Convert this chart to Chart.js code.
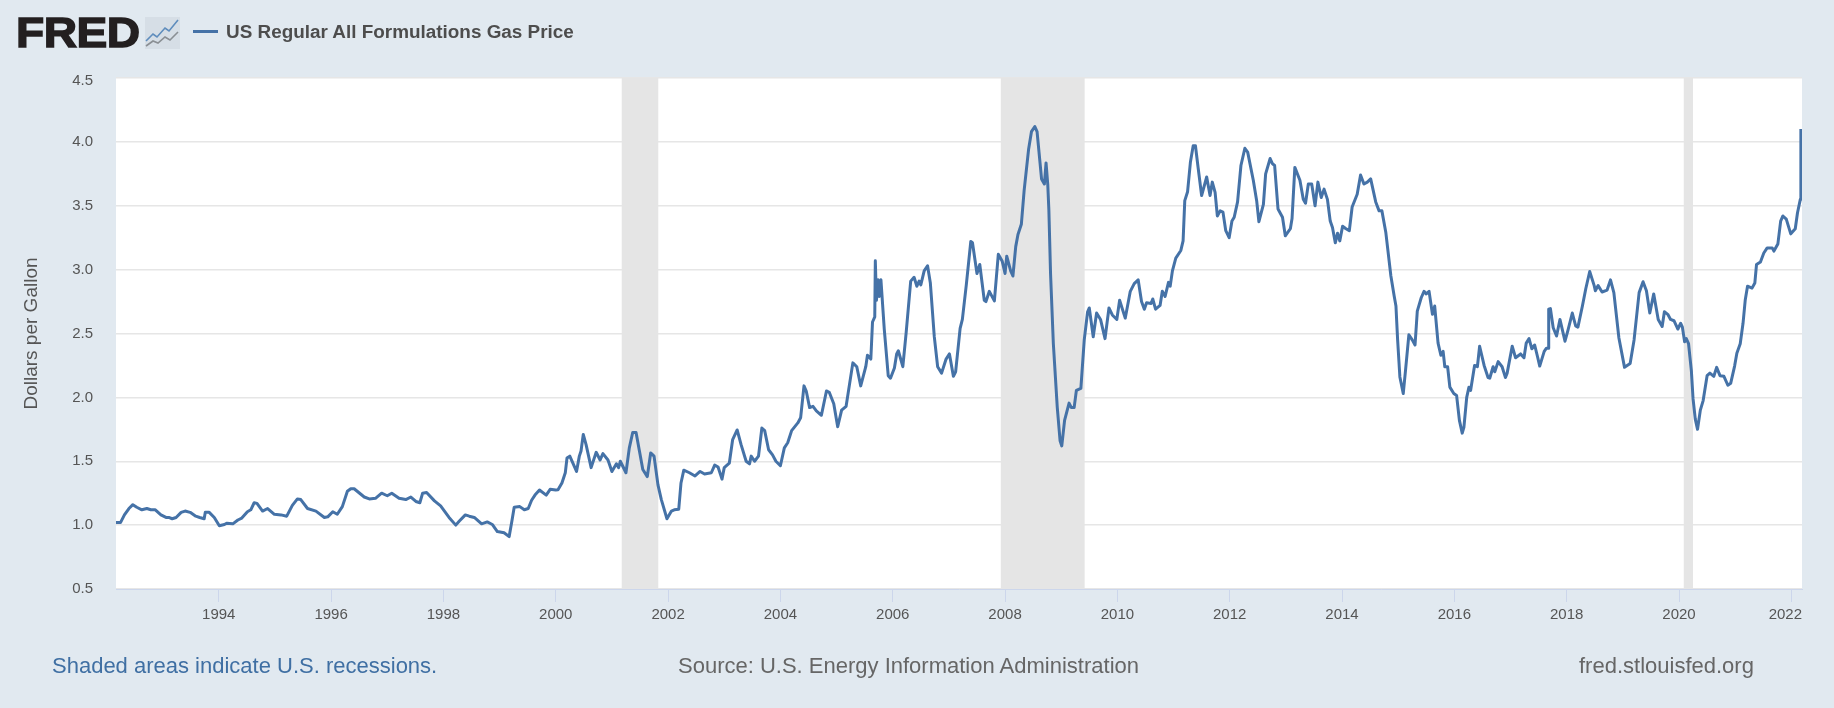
<!DOCTYPE html>
<html>
<head>
<meta charset="utf-8">
<title>US Regular All Formulations Gas Price</title>
<script src="https://cdn.jsdelivr.net/npm/chart.js@4"></script>
<style>
html, body { margin: 0; padding: 0; background: #e1e9f0; }
#wrap { position: relative; width: 1834px; height: 708px; overflow: hidden; font-family: "Liberation Sans", Arial, sans-serif; }
#hrCanvas { position: absolute; left: 0; top: 0; }
.txt { position: absolute; white-space: nowrap; }
#logo { left: 16px; top: 8px; font-size: 42px; font-weight: bold; color: #231f20; line-height: 50px; letter-spacing: -0.5px; -webkit-text-stroke: 1.4px #231f20; transform: scaleX(1.1); transform-origin: left center; }
#icon { position: absolute; left: 145px; top: 17px; }
#legend-line { position: absolute; left: 193px; top: 30px; width: 25px; height: 3px; background: #4572a7; }
#legend-text { left: 226px; top: 21px; font-size: 18.9px; font-weight: bold; color: #4d4d4d; line-height: 22px; }
.foot { top: 654px; font-size: 22px; line-height: 24px; color: #666; }
#foot-left { left: 52px; color: #3f6fa3; }
#foot-mid { left: 678px; }
#foot-right { left: 1579px; }
</style>
</head>
<body>
<div id="wrap">
  <canvas id="hrCanvas" width="1834" height="708"></canvas>
  <div class="txt" id="logo">FRED</div>
  <svg id="icon" width="35" height="32" viewBox="0 0 35 32">
    <rect width="35" height="32" fill="#d6dee6"/>
    <polyline points="1,24 8,17 12,20 20,11 24,14 33,3" fill="none" stroke="#5f8dbd" stroke-width="1.6"/>
    <polyline points="1,29 8,24 13,26 20,20 25,23 33,15" fill="none" stroke="#8a8f94" stroke-width="1.6"/>
  </svg>
  <div id="legend-line"></div>
  <div class="txt" id="legend-text">US Regular All Formulations Gas Price</div>
  <div class="txt foot" id="foot-left">Shaded areas indicate U.S. recessions.</div>
  <div class="txt foot" id="foot-mid">Source: U.S. Energy Information Administration</div>
  <div class="txt foot" id="foot-right">fred.stlouisfed.org</div>
</div>
<script>
const gasYears = [
  1992.17,1992.25,1992.32,1992.40,1992.47,1992.54,1992.63,1992.72,1992.79,1992.87,
  1992.97,1993.06,1993.11,1993.17,1993.24,1993.33,1993.40,1993.49,1993.59,1993.66,
  1993.74,1993.76,1993.83,1993.92,1994.01,1994.10,1994.14,1994.25,1994.34,1994.41,
  1994.51,1994.57,1994.63,1994.68,1994.78,1994.87,1994.99,1995.11,1995.21,1995.31,
  1995.40,1995.46,1995.58,1995.73,1995.88,1995.94,1996.03,1996.11,1996.20,1996.29,
  1996.35,1996.41,1996.59,1996.68,1996.79,1996.90,1997.00,1997.08,1997.21,1997.33,
  1997.42,1997.51,1997.58,1997.63,1997.70,1997.84,1997.95,1998.10,1998.22,1998.28,
  1998.39,1998.46,1998.55,1998.68,1998.78,1998.87,1998.96,1999.08,1999.17,1999.22,
  1999.26,1999.36,1999.44,1999.51,1999.57,1999.63,1999.71,1999.83,1999.90,2000.00,
  2000.04,2000.11,2000.17,2000.20,2000.25,2000.37,2000.42,2000.45,2000.49,2000.54,
  2000.63,2000.72,2000.79,2000.84,2000.93,2001.00,2001.08,2001.12,2001.15,2001.25,
  2001.31,2001.37,2001.43,2001.49,2001.55,2001.63,2001.69,2001.75,2001.82,2001.88,
  2001.98,2002.06,2002.11,2002.19,2002.23,2002.28,2002.38,2002.48,2002.57,2002.65,
  2002.77,2002.83,2002.89,2002.96,2003.00,2003.09,2003.15,2003.23,2003.30,2003.39,
  2003.45,2003.48,2003.54,2003.61,2003.67,2003.72,2003.79,2003.86,2003.92,2004.00,
  2004.07,2004.13,2004.20,2004.31,2004.36,2004.42,2004.46,2004.52,2004.58,2004.64,
  2004.73,2004.82,2004.87,2004.95,2005.02,2005.09,2005.17,2005.29,2005.36,2005.43,
  2005.52,2005.55,2005.61,2005.64,2005.68,2005.69,2005.71,2005.74,2005.76,2005.79,
  2005.85,2005.92,2005.96,2006.03,2006.07,2006.10,2006.18,2006.24,2006.32,2006.38,
  2006.43,2006.47,2006.50,2006.56,2006.62,2006.67,2006.74,2006.80,2006.87,2006.95,
  2007.01,2007.08,2007.12,2007.20,2007.24,2007.31,2007.39,2007.42,2007.50,2007.55,
  2007.63,2007.66,2007.72,2007.81,2007.88,2007.95,2008.00,2008.03,2008.10,2008.14,
  2008.19,2008.23,2008.29,2008.34,2008.42,2008.47,2008.53,2008.57,2008.65,2008.70,
  2008.73,2008.76,2008.78,2008.81,2008.86,2008.93,2008.98,2009.01,2009.06,2009.14,
  2009.18,2009.23,2009.27,2009.35,2009.41,2009.47,2009.50,2009.57,2009.63,2009.70,
  2009.78,2009.85,2009.91,2009.99,2010.04,2010.14,2010.23,2010.30,2010.37,2010.43,
  2010.48,2010.52,2010.60,2010.63,2010.68,2010.76,2010.80,2010.85,2010.91,2010.94,
  2010.98,2011.04,2011.13,2011.17,2011.20,2011.25,2011.30,2011.35,2011.39,2011.44,
  2011.50,2011.59,2011.65,2011.69,2011.74,2011.78,2011.83,2011.88,2011.93,2011.99,
  2012.04,2012.08,2012.14,2012.20,2012.27,2012.32,2012.42,2012.48,2012.52,2012.60,
  2012.64,2012.72,2012.76,2012.80,2012.86,2012.94,2012.99,2013.08,2013.11,2013.16,
  2013.25,2013.31,2013.35,2013.40,2013.46,2013.52,2013.57,2013.63,2013.68,2013.74,
  2013.79,2013.83,2013.88,2013.92,2013.96,2014.01,2014.07,2014.13,2014.18,2014.27,
  2014.33,2014.39,2014.45,2014.51,2014.60,2014.66,2014.71,2014.78,2014.87,2014.93,
  2014.96,2014.99,2015.03,2015.09,2015.13,2015.19,2015.25,2015.30,2015.34,2015.41,
  2015.46,2015.50,2015.55,2015.61,2015.65,2015.71,2015.76,2015.80,2015.83,2015.88,
  2015.92,2015.99,2016.04,2016.09,2016.14,2016.17,2016.22,2016.26,2016.29,2016.36,
  2016.41,2016.45,2016.53,2016.60,2016.63,2016.69,2016.72,2016.78,2016.85,2016.91,
  2016.94,2017.03,2017.09,2017.18,2017.24,2017.28,2017.33,2017.38,2017.43,2017.48,
  2017.52,2017.60,2017.64,2017.67,2017.68,2017.71,2017.76,2017.82,2017.88,2017.97,
  2018.02,2018.10,2018.16,2018.20,2018.28,2018.34,2018.41,2018.49,2018.51,2018.56,
  2018.63,2018.72,2018.78,2018.84,2018.93,2019.03,2019.13,2019.20,2019.29,2019.36,
  2019.42,2019.48,2019.55,2019.63,2019.70,2019.74,2019.80,2019.85,2019.91,2019.98,
  2020.03,2020.06,2020.10,2020.13,2020.17,2020.22,2020.25,2020.29,2020.33,2020.38,
  2020.43,2020.50,2020.55,2020.62,2020.67,2020.73,2020.80,2020.87,2020.92,2020.99,
  2021.03,2021.09,2021.14,2021.18,2021.22,2021.30,2021.35,2021.38,2021.45,2021.51,
  2021.57,2021.66,2021.69,2021.76,2021.81,2021.85,2021.91,2021.99,2022.07,2022.11,
  2022.16,2022.17
];
const gasPrices = [
  1.02,1.02,1.08,1.13,1.16,1.14,1.12,1.13,1.12,1.12,
  1.08,1.06,1.06,1.05,1.06,1.10,1.11,1.10,1.07,1.06,
  1.05,1.10,1.10,1.06,0.995,1.005,1.015,1.01,1.04,1.055,
  1.105,1.12,1.175,1.17,1.11,1.13,1.085,1.08,1.07,1.155,
  1.205,1.20,1.13,1.11,1.06,1.065,1.105,1.085,1.145,1.265,
  1.285,1.285,1.22,1.205,1.21,1.25,1.23,1.25,1.21,1.20,
  1.22,1.185,1.175,1.25,1.255,1.19,1.15,1.06,1.00,1.03,
  1.08,1.07,1.06,1.01,1.025,1.005,0.95,0.94,0.91,1.035,
  1.14,1.145,1.12,1.13,1.195,1.235,1.275,1.235,1.28,1.275,
  1.276,1.33,1.41,1.525,1.54,1.42,1.54,1.58,1.71,1.63,
  1.45,1.57,1.51,1.56,1.51,1.42,1.48,1.45,1.50,1.41,
  1.605,1.725,1.725,1.58,1.435,1.38,1.565,1.54,1.315,1.20,
  1.05,1.11,1.12,1.125,1.33,1.43,1.41,1.385,1.42,1.40,
  1.41,1.47,1.455,1.36,1.45,1.485,1.67,1.745,1.63,1.50,
  1.48,1.54,1.50,1.54,1.76,1.74,1.59,1.55,1.50,1.465,
  1.605,1.645,1.74,1.80,1.84,2.09,2.05,1.92,1.93,1.895,
  1.86,2.05,2.04,1.95,1.77,1.90,1.93,2.27,2.24,2.09,
  2.24,2.33,2.30,2.59,2.63,3.07,2.76,2.92,2.79,2.92,
  2.53,2.17,2.15,2.23,2.34,2.365,2.24,2.51,2.91,2.94,
  2.87,2.91,2.88,2.99,3.03,2.895,2.475,2.24,2.19,2.30,
  2.34,2.165,2.20,2.54,2.61,2.88,3.22,3.21,2.97,3.04,
  2.76,2.75,2.83,2.755,3.12,3.065,2.97,3.105,2.99,2.95,
  3.18,3.275,3.355,3.62,3.945,4.08,4.12,4.08,3.71,3.67,
  3.835,3.67,3.47,2.97,2.42,1.92,1.66,1.62,1.82,1.955,
  1.92,1.92,2.055,2.07,2.45,2.67,2.70,2.475,2.66,2.61,
  2.46,2.70,2.645,2.61,2.76,2.62,2.83,2.89,2.92,2.75,
  2.69,2.74,2.735,2.77,2.69,2.72,2.83,2.79,2.90,2.87,
  2.99,3.09,3.15,3.225,3.54,3.61,3.84,3.97,3.97,3.79,
  3.58,3.725,3.58,3.685,3.605,3.42,3.46,3.45,3.305,3.25,
  3.38,3.41,3.53,3.815,3.95,3.92,3.70,3.54,3.375,3.51,
  3.75,3.87,3.83,3.815,3.475,3.41,3.265,3.32,3.40,3.80,
  3.70,3.55,3.52,3.67,3.67,3.50,3.685,3.565,3.63,3.55,
  3.38,3.33,3.21,3.285,3.225,3.34,3.32,3.305,3.49,3.59,
  3.74,3.67,3.685,3.71,3.53,3.46,3.46,3.29,2.95,2.79,
  2.715,2.45,2.16,2.03,2.21,2.49,2.45,2.41,2.675,2.78,
  2.83,2.81,2.83,2.65,2.715,2.425,2.33,2.36,2.24,2.24,
  2.08,2.03,2.015,1.82,1.72,1.765,2.00,2.08,2.055,2.25,
  2.24,2.40,2.25,2.155,2.15,2.24,2.20,2.28,2.24,2.155,
  2.19,2.40,2.31,2.34,2.31,2.425,2.46,2.38,2.41,2.32,
  2.245,2.36,2.385,2.385,2.69,2.695,2.545,2.48,2.61,2.44,
  2.52,2.66,2.56,2.55,2.715,2.85,2.985,2.875,2.835,2.875,
  2.825,2.84,2.92,2.82,2.465,2.235,2.265,2.45,2.82,2.905,
  2.835,2.66,2.81,2.61,2.555,2.67,2.65,2.61,2.60,2.535,
  2.58,2.55,2.435,2.46,2.42,2.21,1.99,1.83,1.75,1.90,
  1.975,2.17,2.19,2.165,2.235,2.17,2.165,2.095,2.11,2.245,
  2.345,2.42,2.58,2.765,2.87,2.855,2.895,3.04,3.06,3.13,
  3.17,3.17,3.145,3.20,3.38,3.42,3.395,3.28,3.32,3.445,
  3.55,4.10
];
const recessionStarts = [2001.17, 2007.92, 2020.08];
const recessionEnds = [2001.83, 2009.42, 2020.25];
const yearTicks = [1994, 1996, 1998, 2000, 2002, 2004, 2006, 2008, 2010, 2012, 2014, 2016, 2018, 2020, 2022];

const gasSeries = gasYears.map((year, i) => ({ x: year, y: gasPrices[i] }));
const recessionSets = recessionStarts.map((start, i) => ({
    type: 'line',
    data: [{ x: start, y: 4.5 }, { x: recessionEnds[i], y: 4.5 }],
    borderWidth: 0,
    pointRadius: 0,
    fill: 'start',
    backgroundColor: '#e5e5e5',
    order: 2,
}));

// white plot area, drawn under the grid
const plotBackground = {
    id: 'plotBackground',
    beforeDraw(chart) {
        const { ctx, chartArea: a } = chart;
        ctx.save();
        ctx.fillStyle = '#ffffff';
        ctx.fillRect(a.left, a.top, a.right - a.left, a.bottom - a.top);
        ctx.restore();
    },
};

// FRED pulls the edge labels back inside the plot
const edgeLabelsInside = {
    id: 'edgeLabelsInside',
    afterLayout(chart) {
        const xItems = chart.scales.x.getLabelItems();
        const last = xItems[xItems.length - 1];
        if (last) {
            last.options.textAlign = 'right';
            last.options.translation[0] = chart.chartArea.right;
        }
        const yItems = chart.scales.y.getLabelItems();
        const top = yItems[yItems.length - 1];
        if (top) top.options.translation[1] += 3;
    },
};

new Chart(document.getElementById('hrCanvas').getContext('2d'), {
    type: 'line',
    data: {
        datasets: [{
            label: 'US Regular All Formulations Gas Price',
            data: gasSeries,
            borderColor: '#4572a7',
            borderWidth: 3,
            pointRadius: 0,
            tension: 0,
            borderJoinStyle: 'round',
            fill: false,
            order: 1,
        }, ...recessionSets],
    },
    plugins: [plotBackground, edgeLabelsInside],
    options: {
        responsive: false,
        animation: false,
        events: [],
        layout: { padding: { left: 0, top: 78, right: 32, bottom: 0 } },
        plugins: { legend: { display: false }, tooltip: { enabled: false } },
        scales: {
            x: {
                type: 'linear',
                min: 1992.17,
                max: 2022.19,
                afterFit: (scale) => { scale.height = 119; },
                afterBuildTicks: (scale) => { scale.ticks = yearTicks.map((v) => ({ value: v })); },
                grid: { drawOnChartArea: false, drawTicks: true, tickLength: 13, color: '#ccd6eb' },
                border: { color: '#ccd6eb', width: 1 },
                ticks: {
                    autoSkip: false,
                    maxRotation: 0,
                    padding: 4,
                    color: '#555',
                    font: { family: '"Liberation Sans"', size: 15 },
                    callback: (v) => String(v),
                },
            },
            y: {
                min: 0.5,
                max: 4.5,
                afterFit: (scale) => { scale.width = 116; },
                grid: { color: '#e6e6e6', lineWidth: 1.5, drawTicks: false },
                border: { display: false },
                title: {
                    display: true,
                    text: 'Dollars per Gallon',
                    color: '#555',
                    font: { family: '"Liberation Sans"', size: 19 },
                    padding: { top: 20, bottom: 0 },
                },
                ticks: {
                    stepSize: 0.5,
                    padding: 23,
                    color: '#555',
                    font: { family: '"Liberation Sans"', size: 15 },
                    callback: (v) => v.toFixed(1),
                },
            },
        },
    },
});
</script>
</body>
</html>
